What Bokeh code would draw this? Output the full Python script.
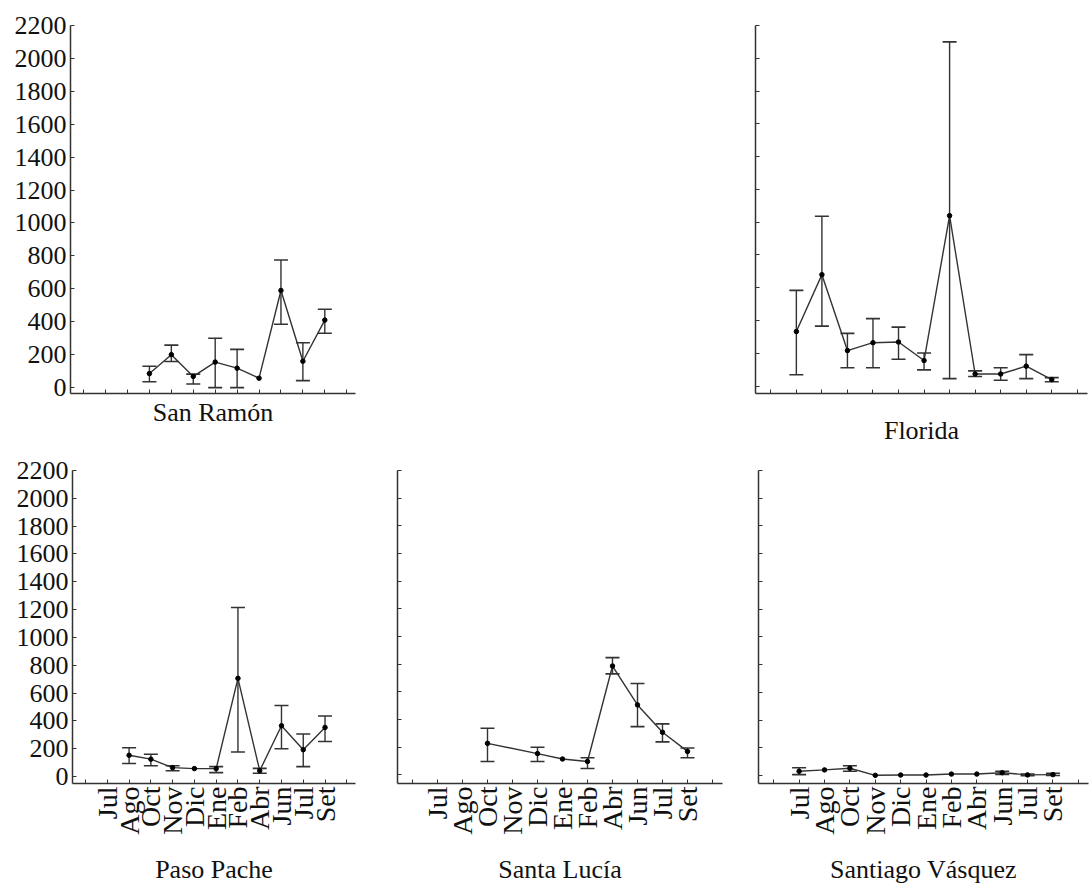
import math
from bokeh.plotting import figure
from bokeh.layouts import column, row
from bokeh.models import (ColumnDataSource, Whisker, TeeHead, FixedTicker, Spacer,
                          CustomLabelingPolicy)
from bokeh.embed import file_html
from bokeh.resources import INLINE

nan = float("nan")

months = ["Jul", "Ago", "Oct", "Nov", "Dic", "Ene", "Feb", "Abr", "Jun", "Jul", "Set"]
y_ticks = [0, 200, 400, 600, 800, 1000, 1200, 1400, 1600, 1800, 2000, 2200]

san_ramon_mean = [nan, nan, 85, 200, 68, 155, 118, 57, 590, 160, 410]
san_ramon_low = [nan, nan, 35, 158, 22, 0, 0, nan, 385, 42, 330]
san_ramon_high = [nan, nan, 130, 258, 82, 300, 232, nan, 775, 272, 476]

florida_mean = [333, 680, 217, 265, 269, 156, 1040, 74, 74, 122, 40]
florida_low = [69, 366, 112, 112, 164, 99, 46, 59, 36, 46, 27]
florida_high = [584, 1036, 322, 412, 360, 202, 2100, 93, 112, 192, 52]

paso_pache_mean = [nan, 153, 125, 64, 57, 57, 706, 42, 365, 193, 353]
paso_pache_low = [nan, 94, 78, 42, nan, 28, 176, 24, 200, 71, 252]
paso_pache_high = [nan, 207, 160, 78, nan, 71, 1215, 59, 511, 306, 435]

santa_lucia_mean = [nan, nan, 228, nan, 154, 115, 97, 787, 506, 308, 170]
santa_lucia_low = [nan, nan, 97, nan, 97, nan, 46, 730, 349, 239, 124]
santa_lucia_high = [nan, nan, 337, nan, 200, nan, 124, 848, 661, 369, 195]

santiago_mean = [32, 42, 54, 3, 5, 5, 12, 12, 22, 6, 8]
santiago_low = [8, nan, 32, nan, nan, nan, nan, nan, 10, 0, 2]
santiago_high = [58, nan, 72, nan, nan, nan, nan, nan, 32, 12, 18]

SERIF = "Times New Roman, Liberation Serif, serif"
INK = "#333333"


def no_labels():
    return CustomLabelingPolicy(code="for (const i of indices) { indices.unset(i) } return indices")


def panel(name, mean, low, high, width, height, left, right, top, bottom,
          ystart, show_y, show_x, title_standoff):
    p = figure(width=width, height=height, x_range=(-0.6, 12.4), y_range=(ystart, 2200),
               output_backend="svg", toolbar_location=None,
               min_border_left=left, min_border_right=right,
               min_border_top=top, min_border_bottom=bottom)
    p.outline_line_color = None
    p.grid.visible = False
    p.background_fill_color = "white"
    p.border_fill_color = "white"

    xs = [i + 1 for i in range(len(months))]
    px = [x for x, m in zip(xs, mean) if not math.isnan(m)]
    py = [m for m in mean if not math.isnan(m)]
    p.line(px, py, line_color=INK, line_width=1.4)
    p.scatter(px, py, size=4.5, color="black")

    ex, elo, ehi = [], [], []
    for x, lo, hi in zip(xs, low, high):
        if not (math.isnan(lo) or math.isnan(hi)):
            ex.append(x)
            elo.append(lo)
            ehi.append(hi)
    src = ColumnDataSource(dict(x=ex, lo=elo, hi=ehi))
    w = Whisker(source=src, base="x", lower="lo", upper="hi", line_color=INK, line_width=1.4,
                upper_head=TeeHead(size=14, line_color=INK, line_width=1.6),
                lower_head=TeeHead(size=14, line_color=INK, line_width=1.6))
    p.add_layout(w)

    # axes
    p.xaxis.ticker = FixedTicker(ticks=list(range(0, 13)))
    overrides = {0: "", 12: ""}
    for i, m in enumerate(months):
        overrides[i + 1] = m
    p.xaxis.major_label_overrides = overrides
    p.yaxis.ticker = FixedTicker(ticks=y_ticks)
    for ax in (p.xaxis[0], p.yaxis[0]):
        ax.axis_line_color = INK
        ax.axis_line_width = 1.5
        ax.major_tick_line_color = INK
        ax.major_tick_in = 4
        ax.major_tick_out = 0
        ax.minor_tick_line_color = None
        ax.major_label_text_font = SERIF
        ax.major_label_text_color = "#111111"
    if show_y:
        p.yaxis.major_label_text_font_size = "26px"
        p.yaxis.major_label_standoff = 4
    else:
        p.yaxis.major_label_text_font_size = "1px"
        p.yaxis.major_label_standoff = 0
        p.yaxis.major_label_policy = no_labels()
    if show_x:
        p.xaxis.major_label_text_font_size = "28px"
        p.xaxis.major_label_orientation = math.pi / 2
        p.xaxis.major_label_standoff = 3
    else:
        p.xaxis.major_label_text_font_size = "1px"
        p.xaxis.major_label_standoff = 0
        p.xaxis.major_label_policy = no_labels()
    p.xaxis.axis_label = name
    p.xaxis.axis_label_text_font = SERIF
    p.xaxis.axis_label_text_font_style = "normal"
    p.xaxis.axis_label_text_font_size = "26px"
    p.xaxis.axis_label_text_line_height = 1.0
    p.xaxis.axis_label_text_color = "#111111"
    p.xaxis.axis_label_standoff = title_standoff
    return p


sr = panel("San Ramón", san_ramon_mean, san_ramon_low, san_ramon_high,
           380, 448, 70, 25, 25, 55, -36, True, False, 0)
fl = panel("Florida", florida_mean, florida_low, florida_high,
           400, 448, 65, 3, 10, 46, -45, False, False, 18)
pp = panel("Paso Pache", paso_pache_mean, paso_pache_low, paso_pache_high,
           375, 438, 72, 20, 22, 96, -50, True, True, 17)
sl = panel("Santa Lucía", santa_lucia_mean, santa_lucia_low, santa_lucia_high,
           360, 438, 22, 13, 14, 94, -62, False, True, 17)
sv = panel("Santiago Vásquez", santiago_mean, santiago_low, santiago_high,
           355, 438, 23, 2, 14, 101, -56, False, True, 17)

layout = column(row(sr, Spacer(width=310, height=448), fl), row(pp, sl, sv))

open("out.html", "w").write(file_html(layout, INLINE))
